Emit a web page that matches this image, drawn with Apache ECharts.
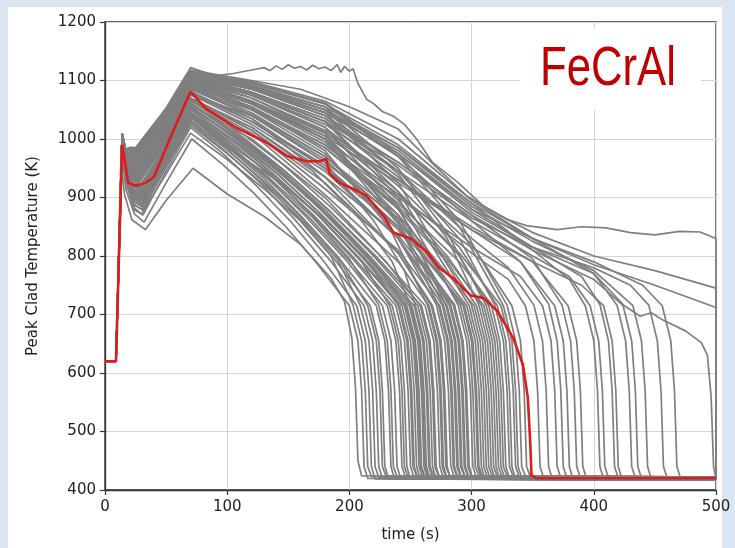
<!DOCTYPE html>
<html>
<head>
<meta charset="utf-8">
<script src="https://cdn.jsdelivr.net/npm/echarts@6/dist/echarts.min.js"></script>
<style>
  html, body { margin:0; padding:0; }
  body { width:735px; height:548px; background:#dbe5f1; position:relative; overflow:hidden; }
  #paper { position:absolute; left:8px; top:7px; width:714px; height:541px; background:#ffffff; }
  #chart { position:absolute; left:0; top:0; width:735px; height:548px; }
</style>
</head>
<body>
<div id="paper"></div>
<div id="chart"></div>
<script>
// ---- data (time s, temperature K) ----
const xTicks = [0, 100, 200, 300, 400, 500];
const yTicks = [400, 500, 600, 700, 800, 900, 1000, 1100, 1200];

const lowerRuns = [
  [[0,620],[9,620],[13,962],[16,905],[22,862],[33,845],[50,895],[72,950],[100,906],[130,868],[160,820],[185,762],[196,722],[202,660],[205,575],[207,450],[210,424],[500,421]],
  [[0,620],[9,620],[14,975],[17,915],[24,872],[32,858],[50,925],[71,1000],[96,957],[122,907],[148,850],[174,786],[200,715],[207,655],[210,570],[212,440],[215,420],[500,418]],
  [[0,620],[9,620],[14,982],[17,925],[24,882],[31,870],[50,945],[70,1020],[97,974],[124,920],[152,859],[179,791],[206,715],[213,655],[216,570],[218,440],[221,419],[500,417]],
  [[0,620],[9,620],[14,985],[17,930],[23,890],[31,878],[50,952],[70,1028],[98,980],[127,925],[155,863],[184,793],[212,715],[219,655],[222,570],[224,440],[227,420],[500,418]],
  [[0,620],[9,620],[14,988],[17,935],[23,895],[30,884],[50,958],[70,1032],[99,984],[129,928],[158,865],[188,794],[217,715],[224,655],[227,570],[229,440],[232,421],[500,419]],
  [[0,620],[9,620],[14,986],[17,935],[23,898],[30,888],[50,962],[70,1036],[100,987],[131,931],[161,867],[192,795],[222,715],[229,655],[232,570],[234,440],[237,419],[500,417]],
  [[0,620],[9,620],[14,990],[17,940],[23,902],[30,893],[50,966],[70,1040],[101,991],[133,933],[164,868],[196,796],[227,715],[234,655],[237,570],[239,440],[242,420],[500,418]],
  [[0,620],[9,620],[14,988],[17,938],[23,900],[30,890],[50,962],[71,1035],[102,986],[134,930],[167,866],[199,794],[231,715],[238,655],[241,570],[243,440],[246,421],[500,419]],
  [[0,620],[9,620],[14,992],[17,942],[23,908],[29,898],[50,972],[70,1045],[103,995],[136,937],[169,871],[202,797],[235,715],[242,655],[245,570],[247,440],[250,419],[500,417]],
  [[0,620],[9,620],[14,990],[17,940],[23,910],[29,902],[50,972],[70,1042],[104,992],[137,935],[171,869],[204,796],[238,715],[245,655],[248,570],[250,440],[253,420],[500,418]],
  [[0,620],[9,620],[14,994],[17,945],[23,905],[30,896],[50,973],[70,1050],[104,999],[138,940],[173,873],[207,798],[241,715],[248,655],[251,570],[253,440],[256,421],[500,419]],
  [[0,620],[9,620],[14,992],[17,944],[23,915],[29,908],[50,977],[70,1046],[105,996],[139,937],[174,871],[208,797],[243,715],[250,655],[253,570],[255,440],[258,419],[500,417]],
  [[0,620],[9,620],[14,996],[17,948],[23,912],[29,904],[50,980],[70,1055],[105,1003],[140,943],[175,875],[210,799],[245,715],[252,655],[255,570],[257,440],[260,420],[500,418]],
  [[0,620],[9,620],[14,993],[17,946],[23,920],[28,912],[50,981],[70,1050],[105,999],[141,940],[176,873],[212,798],[247,715],[254,655],[257,570],[259,440],[262,421],[500,419]],
  [[0,620],[9,620],[14,997],[17,950],[23,916],[28,908],[50,984],[70,1060],[106,1008],[142,947],[177,878],[213,801],[249,715],[256,655],[259,570],[261,440],[264,419],[500,417]],
  [[0,620],[9,620],[14,995],[17,950],[22,925],[28,918],[50,987],[70,1056],[106,1004],[142,944],[179,876],[215,800],[251,715],[258,655],[261,570],[263,440],[266,420],[500,418]],
  [[0,620],[9,620],[14,998],[17,952],[22,922],[28,914],[50,988],[70,1062],[107,1009],[143,948],[180,879],[216,801],[253,715],[260,655],[263,570],[265,440],[268,421],[500,419]],
  [[0,620],[9,620],[14,999],[17,955],[22,930],[27,922],[50,994],[70,1066],[107,1013],[144,951],[182,881],[219,802],[256,715],[263,655],[266,570],[268,440],[271,419],[500,417]],
  [[0,620],[9,620],[14,996],[17,952],[22,926],[28,918],[50,989],[70,1060],[108,1008],[146,947],[183,878],[221,801],[259,715],[266,655],[269,570],[271,440],[274,420],[500,418]],
  [[0,620],[9,620],[14,1001],[17,958],[22,935],[27,928],[50,999],[70,1070],[108,1016],[147,954],[185,883],[224,803],[262,715],[269,655],[272,570],[274,440],[277,421],[500,419]]
];

const middleRuns = [
  [[0,620],[9,620],[14,999],[17,955],[22,930],[27,924],[50,995],[70,1066],[120,1010],[180,905],[240,790],[265,715],[272,655],[275,570],[277,440],[280,420],[500,418]],
  [[0,620],[9,620],[14,1002],[17,960],[22,938],[27,932],[50,1006],[70,1080],[120,1035],[180,935],[240,805],[268,715],[275,655],[278,570],[280,440],[283,419],[500,417]],
  [[0,620],[9,620],[14,1003],[17,962],[22,934],[27,928],[50,1009],[70,1090],[120,1055],[180,980],[240,830],[271,718],[278,655],[281,570],[283,440],[286,421],[500,419]],
  [[0,620],[9,620],[14,1000],[17,960],[22,944],[26,938],[50,1004],[70,1070],[120,1015],[180,915],[240,810],[274,715],[281,655],[284,570],[286,440],[289,420],[500,418]],
  [[0,620],[9,620],[14,1004],[17,964],[22,940],[26,934],[50,1017],[70,1100],[120,1070],[180,1010],[240,860],[277,716],[284,655],[287,570],[289,440],[292,419],[500,417]],
  [[0,620],[9,620],[14,1002],[17,962],[22,948],[26,942],[50,1009],[70,1076],[120,1025],[180,945],[240,830],[280,715],[287,655],[290,570],[292,440],[295,421],[500,419]],
  [[0,620],[9,620],[14,1005],[17,965],[22,944],[26,938],[50,1016],[70,1095],[120,1060],[180,995],[240,870],[283,715],[290,655],[293,570],[295,440],[298,420],[500,418]],
  [[0,620],[9,620],[14,1003],[17,964],[22,952],[26,946],[50,1014],[70,1082],[120,1030],[180,955],[240,845],[286,717],[293,655],[296,570],[298,440],[301,419],[500,417]],
  [[0,620],[9,620],[14,1006],[17,966],[22,950],[26,944],[50,1024],[70,1105],[120,1080],[180,1030],[240,900],[289,716],[296,655],[299,570],[301,440],[304,421],[500,419]],
  [[0,620],[9,620],[14,1006],[17,967],[22,955],[26,950],[50,1020],[70,1090],[120,1045],[180,970],[240,860],[293,715],[300,655],[303,570],[305,440],[308,420],[500,418]],
  [[0,620],[9,620],[14,1004],[17,966],[21,958],[25,954],[50,1019],[70,1085],[120,1040],[180,960],[240,865],[296,715],[303,655],[306,570],[308,440],[311,419],[500,417]],
  [[0,620],[9,620],[14,1007],[17,968],[22,954],[26,948],[50,1028],[70,1108],[120,1085],[180,1045],[240,925],[300,716],[307,655],[310,570],[312,440],[315,421],[500,419]],
  [[0,620],[9,620],[14,1005],[17,968],[21,962],[25,958],[50,1025],[70,1092],[120,1050],[180,985],[240,880],[280,790],[304,715],[311,655],[314,570],[316,440],[319,420],[500,418]],
  [[0,620],[9,620],[14,1008],[17,969],[21,960],[25,954],[50,1027],[70,1100],[120,1065],[180,1005],[240,895],[280,800],[308,716],[315,655],[318,570],[320,440],[323,419],[500,417]],
  [[0,620],[9,620],[14,1007],[17,970],[21,964],[25,960],[50,1035],[70,1110],[120,1090],[180,1055],[240,950],[280,840],[312,715],[319,655],[322,570],[324,440],[327,421],[500,419]],
  [[0,620],[9,620],[14,1008],[17,972],[21,968],[25,964],[50,1030],[70,1096],[120,1055],[180,990],[240,890],[290,790],[316,718],[323,655],[326,570],[328,440],[331,420],[500,418]],
  [[0,620],[9,620],[14,1009],[17,972],[21,962],[25,958],[50,1031],[70,1104],[120,1075],[180,1020],[240,920],[290,815],[321,715],[328,655],[331,570],[333,440],[336,419],[500,417]],
  [[0,620],[9,620],[14,1008],[17,972],[21,968],[25,964],[50,1038],[70,1112],[120,1095],[180,1060],[240,970],[290,850],[326,715],[333,655],[336,570],[338,440],[341,421],[500,419]]
];

const extraRuns = [
  [[0,620],[9,620],[14,984],[17,944],[23,880],[30,872],[50,940],[70,1010],[100,965],[130,915],[160,860],[185,800],[203,716],[210,655],[213,570],[215,440],[218,423],[500,421]],
  [[0,620],[9,620],[14,986],[17,946],[23,888],[30,880],[50,952],[70,1024],[100,975],[130,922],[160,864],[190,795],[209,715],[216,655],[219,570],[221,440],[224,422],[500,420]],
  [[0,620],[9,620],[14,988],[17,948],[23,893],[30,886],[50,958],[70,1030],[100,982],[130,928],[160,868],[190,800],[215,715],[222,655],[225,570],[227,440],[230,424],[500,422]],
  [[0,620],[9,620],[14,990],[17,950],[23,903],[29,896],[50,968],[70,1040],[100,990],[135,932],[170,866],[200,795],[224,716],[231,655],[234,570],[236,440],[239,423],[500,421]],
  [[0,620],[9,620],[14,992],[17,952],[23,907],[29,900],[50,972],[70,1044],[100,994],[140,934],[175,868],[210,790],[233,715],[240,655],[243,570],[245,440],[248,422],[500,420]],
  [[0,620],[9,620],[14,990],[17,950],[23,906],[29,900],[50,969],[70,1038],[100,985],[140,930],[180,862],[215,790],[240,715],[247,655],[250,570],[252,440],[255,424],[500,422]],
  [[0,620],[9,620],[14,995],[17,955],[23,912],[29,906],[50,979],[70,1052],[110,1000],[150,935],[190,855],[225,775],[246,715],[253,655],[256,570],[258,440],[261,423],[500,421]],
  [[0,620],[9,620],[14,998],[17,958],[22,922],[28,916],[50,990],[70,1064],[120,1020],[170,945],[210,860],[235,790],[250,715],[257,655],[260,570],[262,440],[265,422],[500,420]],
  [[0,620],[9,620],[14,1002],[17,962],[22,936],[27,930],[50,1002],[70,1075],[120,1040],[180,960],[220,860],[245,775],[254,715],[261,655],[264,570],[266,440],[269,424],[500,422]],
  [[0,620],[9,620],[14,997],[17,957],[22,924],[28,918],[50,988],[70,1058],[120,1000],[180,900],[230,790],[258,715],[265,655],[268,570],[270,440],[273,423],[500,421]],
  [[0,620],[9,620],[14,1004],[17,964],[22,942],[26,936],[50,1010],[70,1085],[120,1050],[180,975],[230,860],[264,716],[271,655],[274,570],[276,440],[279,422],[500,420]],
  [[0,620],[9,620],[14,1000],[17,960],[22,932],[27,926],[50,997],[70,1068],[120,1015],[180,925],[240,805],[267,715],[274,655],[277,570],[279,440],[282,424],[500,422]],
  [[0,620],[9,620],[14,1005],[17,965],[22,946],[26,940],[50,1017],[70,1095],[120,1065],[180,1000],[240,855],[273,715],[280,655],[283,570],[285,440],[288,423],[500,421]],
  [[0,620],[9,620],[14,1002],[17,962],[22,940],[26,934],[50,1006],[70,1078],[120,1030],[180,950],[240,830],[276,716],[283,655],[286,570],[288,440],[291,422],[500,420]],
  [[0,620],[9,620],[14,1006],[17,966],[22,952],[26,946],[50,1024],[70,1102],[120,1075],[180,1020],[240,885],[279,715],[286,655],[289,570],[291,440],[294,424],[500,422]],
  [[0,620],[9,620],[14,1004],[17,964],[22,946],[26,940],[50,1014],[70,1088],[120,1040],[180,965],[240,850],[282,715],[289,655],[292,570],[294,440],[297,423],[500,421]],
  [[0,620],[9,620],[14,1000],[17,960],[22,936],[27,930],[50,1000],[70,1070],[120,1020],[180,935],[240,835],[285,716],[292,655],[295,570],[297,440],[300,422],[500,420]],
  [[0,620],[9,620],[14,1006],[17,966],[22,956],[26,950],[50,1024],[70,1098],[120,1062],[180,1000],[240,880],[291,715],[298,655],[301,570],[303,440],[306,424],[500,422]],
  [[0,620],[9,620],[14,1003],[17,963],[22,950],[26,944],[50,1012],[70,1080],[120,1035],[180,950],[240,850],[294,716],[301,655],[304,570],[306,440],[309,423],[500,421]],
  [[0,620],[9,620],[14,1007],[17,968],[21,960],[25,956],[50,1030],[70,1104],[120,1078],[180,1030],[240,910],[298,715],[305,655],[308,570],[310,440],[313,422],[500,420]],
  [[0,620],[9,620],[14,1005],[17,966],[21,955],[25,950],[50,1018],[70,1086],[120,1042],[180,970],[240,870],[302,715],[309,655],[312,570],[314,440],[317,424],[500,422]],
  [[0,620],[9,620],[14,1009],[17,972],[21,970],[25,966],[50,1038],[70,1110],[120,1088],[180,1050],[240,940],[280,830],[306,716],[313,655],[316,570],[318,440],[321,423],[500,421]],
  [[0,620],[9,620],[14,1006],[17,968],[21,960],[25,955],[50,1023],[70,1092],[120,1052],[180,985],[240,885],[280,795],[310,715],[317,655],[320,570],[322,440],[325,422],[500,420]],
  [[0,620],[9,620],[14,1008],[17,970],[21,966],[25,962],[50,1032],[70,1102],[120,1070],[180,1012],[240,910],[290,800],[314,715],[321,655],[324,570],[326,440],[329,424],[500,422]],
  [[0,620],[9,620],[14,1009],[17,973],[21,971],[25,968],[50,1038],[70,1108],[120,1085],[180,1040],[240,945],[290,830],[319,716],[326,655],[329,570],[331,440],[334,423],[500,421]],
  [[0,620],[9,620],[14,1007],[17,970],[21,964],[25,960],[50,1029],[70,1098],[120,1062],[180,1000],[240,905],[290,805],[324,715],[331,655],[334,570],[336,440],[339,422],[500,420]],
  [[0,620],[9,620],[14,1010],[17,975],[21,974],[25,970],[50,1042],[70,1114],[120,1096],[180,1062],[240,975],[290,860],[329,716],[336,655],[339,570],[341,440],[344,424],[500,422]],
  [[0,620],[9,620],[14,1009],[17,973],[21,970],[25,966],[50,1036],[70,1106],[120,1078],[180,1030],[240,935],[300,820],[333,715],[340,655],[343,570],[345,440],[348,423],[500,421]]
];

const lateRuns = [
  [[0,620],[9,620],[14,1006],[17,972],[21,970],[25,968],[50,1034],[70,1100],[120,1060],[180,1000],[240,905],[300,805],[330,760],[344,715],[351,655],[354,570],[356,440],[359,420],[500,418]],
  [[0,620],[9,620],[14,1007],[17,972],[21,968],[25,965],[50,1036],[70,1108],[120,1080],[180,1035],[240,945],[300,830],[330,780],[351,716],[358,655],[361,570],[363,440],[366,419],[500,417]],
  [[0,620],[9,620],[14,1008],[17,976],[21,978],[25,975],[50,1035],[70,1095],[120,1050],[180,990],[240,900],[300,815],[340,765],[358,715],[365,655],[368,570],[370,440],[373,421],[500,419]],
  [[0,620],[9,620],[14,1008],[17,974],[21,973],[25,970],[50,1041],[70,1112],[120,1090],[180,1050],[240,970],[300,860],[340,790],[363,718],[370,655],[373,570],[375,440],[378,420],[500,418]],
  [[0,620],[9,620],[14,1009],[17,977],[21,978],[25,975],[50,1040],[70,1104],[120,1070],[180,1015],[240,930],[300,845],[340,790],[368,715],[375,655],[378,570],[380,440],[383,419],[500,417]],
  [[0,620],[9,620],[14,1010],[17,980],[21,983],[25,980],[50,1045],[70,1110],[120,1085],[180,1040],[240,960],[300,870],[350,795],[374,716],[381,655],[384,570],[386,440],[389,421],[500,419]],
  [[0,620],[9,620],[14,1008],[17,977],[21,978],[25,975],[50,1038],[70,1100],[120,1065],[180,1010],[240,930],[300,850],[350,790],[379,715],[386,655],[389,570],[391,440],[394,420],[500,418]],
  [[0,620],[9,620],[14,1010],[17,980],[21,983],[25,980],[50,1048],[70,1115],[120,1095],[180,1060],[240,990],[300,890],[350,810],[380,760],[393,715],[400,655],[403,570],[405,440],[408,419],[500,417]],
  [[0,620],[9,620],[14,1007],[17,974],[21,973],[25,970],[50,1038],[70,1106],[120,1075],[180,1025],[240,945],[300,860],[350,800],[380,765],[397,715],[404,655],[407,570],[409,440],[412,421],[500,419]],
  [[0,620],[9,620],[14,1009],[17,977],[21,978],[25,975],[50,1043],[70,1112],[120,1088],[180,1045],[240,975],[300,880],[350,815],[390,765],[405,717],[412,655],[415,570],[417,440],[420,420],[500,418]],
  [[0,620],[9,620],[14,1006],[17,971],[21,968],[25,965],[50,1032],[70,1098],[120,1062],[180,1005],[240,925],[300,845],[350,790],[390,750],[408,715],[415,655],[418,570],[420,440],[423,419],[500,417]],
  [[0,620],[9,620],[14,1010],[17,980],[21,983],[25,980],[50,1048],[70,1116],[120,1098],[180,1065],[240,1000],[300,895],[350,830],[400,770],[419,716],[426,655],[429,570],[431,440],[434,421],[500,419]],
  [[0,620],[9,620],[14,1009],[17,977],[21,978],[25,975],[50,1041],[70,1108],[120,1080],[180,1035],[240,960],[300,870],[350,810],[400,760],[424,715],[431,655],[434,570],[436,440],[439,420],[500,418]],
  [[0,620],[9,620],[14,1010],[17,980],[21,983],[25,980],[50,1047],[70,1114],[120,1092],[180,1055],[240,985],[300,885],[350,825],[400,775],[432,715],[439,655],[442,570],[444,440],[447,419],[500,417]],
  [[0,620],[9,620],[14,1008],[17,975],[21,975],[25,972],[50,1039],[70,1106],[120,1078],[180,1030],[240,955],[300,865],[350,815],[400,780],[430,750],[445,716],[452,655],[455,570],[457,440],[460,421],[500,419]],
  [[0,620],[9,620],[14,1009],[17,978],[21,981],[25,978],[50,1045],[70,1112],[120,1090],[180,1050],[240,980],[300,880],[350,830],[400,790],[440,750],[456,715],[463,655],[466,570],[468,440],[471,420],[500,418]],
  [[0,620],[9,620],[14,1009],[17,977],[21,978],[25,975],[50,1042],[70,1110],[120,1085],[180,1045],[240,975],[300,875],[350,815],[400,770],[425,715],[438,697],[447,703],[457,690],[475,672],[488,652],[493,630],[496,560],[498,440],[500,420]]
];

const survivorRuns = [
  [[0,620],[9,620],[14,1010],[17,982],[21,985],[25,983],[50,1050],[70,1118],[120,1100],[160,1085],[200,1055],[240,1017],[270,954],[296,903],[323,869],[350,840],[400,800],[450,775],[500,745],[500,418]],
  [[0,620],[9,620],[14,1009],[17,978],[21,980],[25,978],[50,1044],[70,1110],[120,1088],[180,1050],[240,985],[300,890],[350,830],[400,785],[450,750],[500,712],[500,418]],
  [[0,620],[9,620],[14,1010],[17,983],[21,986],[25,985],[50,1053],[70,1122],[90,1108],[105,1112],[120,1118],[130,1122],[135,1117],[140,1125],[145,1119],[150,1127],[155,1121],[160,1124],[165,1118],[170,1126],[175,1120],[180,1123],[185,1117],[190,1127],[193,1114],[196,1124],[200,1116],[203,1120],[207,1095],[214,1068],[220,1060],[227,1047],[236,1039],[245,1025],[255,1000],[268,960],[288,927],[310,885],[330,862],[345,852],[370,845],[390,850],[410,848],[430,840],[450,836],[470,842],[487,841],[500,830],[500,418]]
];

const redRun = [[0,620],[9,620],[14,990],[16,965],[19,925],[25,920],[33,925],[40,935],[55,1010],[70,1081],[83,1051],[105,1022],[132,994],[149,971],[165,962],[176,962],[181,966],[184,940],[192,925],[203,915],[214,903],[228,869],[236,840],[250,830],[263,808],[274,779],[285,762],[299,733],[310,728],[321,706],[334,660],[342,614],[346,558],[348,480],[349,425],[353,420],[500,420]];

const labelText = 'FeCrAl';
// ---------------------------------------------------------------

const grayRuns = lowerRuns.concat(middleRuns, extraRuns, lateRuns, survivorRuns);
const series = grayRuns.map(function (run) {
  return {
    type: 'line', data: run, showSymbol: false, symbol: 'none', silent: true,
    lineStyle: { color: '#7f7f7f', width: 1.7 }, z: 2, animation: false
  };
});
series.push({
  type: 'line', data: redRun, showSymbol: false, symbol: 'none', silent: true,
  lineStyle: { color: '#dd1c1c', width: 2.6 }, z: 5, animation: false
});

const font = 'DejaVu Sans';
const chart = echarts.init(document.getElementById('chart'), null, { renderer: 'canvas' });
chart.setOption({
  animation: false,
  backgroundColor: 'transparent',
  grid: { left: 105, right: 19, top: 22, bottom: 52, show: true, borderColor: '#333', borderWidth: 1.3, backgroundColor: 'transparent' },
  xAxis: {
    type: 'value', min: xTicks[0], max: xTicks[xTicks.length - 1], interval: 100,
    name: 'time (s)', nameLocation: 'middle', nameGap: 38,
    nameTextStyle: { fontFamily: font, fontSize: 15, color: '#222' },
    axisLine: { show: true, onZero: false, lineStyle: { color: '#333', width: 1.3 } },
    axisTick: { show: true, length: 5, lineStyle: { color: '#333', width: 1.2 } },
    axisLabel: { fontFamily: font, fontSize: 15, color: '#222', margin: 10, formatter: function (v) { return String(v); } },
    splitLine: { show: true, lineStyle: { color: '#d4d4d4', width: 1 } }
  },
  yAxis: {
    type: 'value', min: yTicks[0], max: yTicks[yTicks.length - 1], interval: 100,
    name: 'Peak Clad Temperature (K)', nameLocation: 'middle', nameGap: 64,
    nameTextStyle: { fontFamily: font, fontSize: 15, color: '#222' },
    axisLine: { show: true, onZero: false, lineStyle: { color: '#333', width: 1.3 } },
    axisTick: { show: true, length: 5, lineStyle: { color: '#333', width: 1.2 } },
    axisLabel: { fontFamily: font, fontSize: 15, color: '#222', margin: 9, formatter: function (v) { return String(v); } },
    splitLine: { show: true, lineStyle: { color: '#d4d4d4', width: 1 } }
  },
  graphic: [
    { type: 'rect', z: 100, shape: { x: 520, y: 28, width: 181, height: 82 }, style: { fill: '#ffffff' } },
    { type: 'text', z: 101, x: 540, y: 70, scaleX: 0.78, scaleY: 1,
      style: { text: labelText, fill: '#c00000', font: '56px "Liberation Sans", Arial, sans-serif', align: 'left', verticalAlign: 'middle' } }
  ],
  series: series
});
</script>
</body>
</html>
